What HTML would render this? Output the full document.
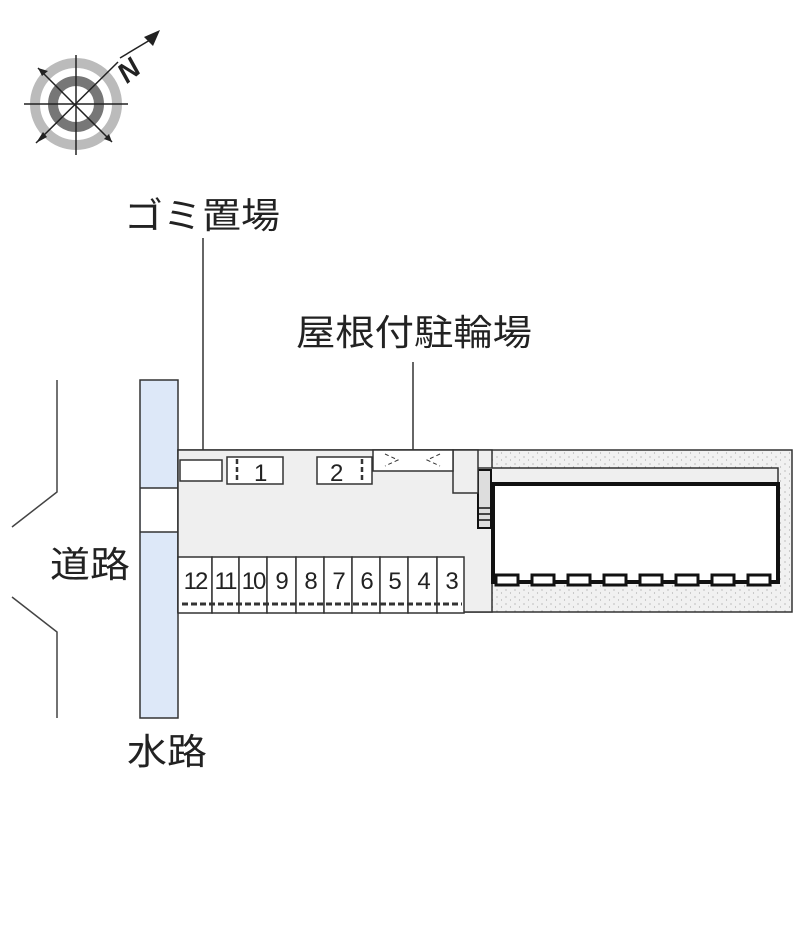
<!DOCTYPE html>
<html><head><meta charset="utf-8"><style>
body{margin:0;background:#fff;width:800px;height:941px;overflow:hidden;font-family:"Liberation Sans","Noto Sans CJK JP",sans-serif}
</style></head><body>
<svg width="800" height="941" xmlns="http://www.w3.org/2000/svg">
<defs>
<pattern id="dots" width="9" height="7" patternUnits="userSpaceOnUse">
<rect width="9" height="7" fill="#f1f1f1"/>
<circle cx="2" cy="2" r="0.6" fill="#999"/><circle cx="6.5" cy="5" r="0.6" fill="#aaa"/>
</pattern>
</defs>
<!-- compass -->
<circle cx="76" cy="104" r="41" fill="none" stroke="#bbb" stroke-width="10"/>
<circle cx="76" cy="104" r="23" fill="none" stroke="#777" stroke-width="10"/>
<g stroke="#222" stroke-width="1.5">
<line x1="24" y1="104" x2="128" y2="104"/>
<line x1="76" y1="55" x2="76" y2="155"/>
<line x1="38" y1="68" x2="112" y2="142"/>
<line x1="36" y1="143" x2="118" y2="62"/>
<line x1="120" y1="58" x2="150" y2="40"/>
</g>
<polygon points="160,30 144,37 153,46" fill="#222"/>
<polygon points="36,143 43,132 47,137" fill="#222"/>
<polygon points="38,68 48,71 42,76" fill="#222"/>
<polygon points="112,142 104,139 109,134" fill="#222"/>
<text x="116" y="78" font-size="28" font-weight="bold" font-style="italic" fill="#222" transform="rotate(-40 130 66)">N</text>
<!-- labels -->
<text x="124" y="228" font-size="36" fill="#222" textLength="156" lengthAdjust="spacingAndGlyphs">ゴミ置場</text>
<line x1="203" y1="238" x2="203" y2="470" stroke="#333" stroke-width="1.5"/>
<text x="296" y="345" font-size="36" fill="#222" textLength="236" lengthAdjust="spacingAndGlyphs">屋根付駐輪場</text>
<line x1="413" y1="362" x2="413" y2="465" stroke="#333" stroke-width="1.5"/>
<text x="50" y="577" font-size="36" fill="#222" textLength="80" lengthAdjust="spacingAndGlyphs">道路</text>
<text x="127" y="764" font-size="36" fill="#222" textLength="80" lengthAdjust="spacingAndGlyphs">水路</text>
<!-- road -->
<g stroke="#444" stroke-width="1.5" fill="none">
<polyline points="57,380 57,492 12,527"/>
<polyline points="12,597 57,632 57,718"/>
</g>
<!-- water -->
<rect x="140" y="380" width="38" height="338" fill="#dde8f8" stroke="#333" stroke-width="1.5"/>
<rect x="141" y="488" width="36" height="44" fill="#fff"/>
<line x1="140" y1="488" x2="178" y2="488" stroke="#333" stroke-width="1.5"/>
<line x1="140" y1="532" x2="178" y2="532" stroke="#333" stroke-width="1.5"/>
<!-- lot -->
<rect x="178" y="450" width="614" height="162" fill="url(#dots)" stroke="#333" stroke-width="1.5"/>
<rect x="178" y="450" width="314" height="162" fill="#efefef" stroke="#333" stroke-width="1.5"/>
<rect x="478" y="468" width="300" height="16" fill="#efefef" stroke="#333" stroke-width="1.5"/>
<rect x="493" y="484" width="285" height="98" fill="#fff" stroke="#111" stroke-width="4"/>
<g fill="#fff" stroke="#111" stroke-width="3">
<rect x="496" y="575" width="22" height="10"/><rect x="532" y="575" width="22" height="10"/>
<rect x="568" y="575" width="22" height="10"/><rect x="604" y="575" width="22" height="10"/>
<rect x="640" y="575" width="22" height="10"/><rect x="676" y="575" width="22" height="10"/>
<rect x="712" y="575" width="22" height="10"/><rect x="748" y="575" width="22" height="10"/>
</g>
<rect x="478" y="470" width="13" height="58" fill="#ddd" stroke="#111" stroke-width="2"/>
<g stroke="#111" stroke-width="1.5"><line x1="478" y1="508" x2="491" y2="508"/><line x1="478" y1="514" x2="491" y2="514"/><line x1="478" y1="520" x2="491" y2="520"/></g>
<rect x="453" y="450" width="25" height="43" fill="#efefef" stroke="#333" stroke-width="1.5"/>
<rect x="373" y="450" width="80" height="21" fill="#fff" stroke="#333" stroke-width="1.5"/>
<path d="M385,454 L398,460 L385,466 M440,454 L427,460 L440,466" stroke="#333" fill="none" stroke-dasharray="4,3"/>
<rect x="180" y="460" width="42" height="21" fill="#fff" stroke="#333" stroke-width="1.5"/>
<rect x="227" y="457" width="56" height="27" fill="#fff" stroke="#333" stroke-width="1.5"/>
<rect x="317" y="457" width="55" height="27" fill="#fff" stroke="#333" stroke-width="1.5"/>
<line x1="237" y1="459" x2="237" y2="482" stroke="#333" stroke-width="2.5" stroke-dasharray="5,3"/>
<line x1="362" y1="459" x2="362" y2="482" stroke="#333" stroke-width="2.5" stroke-dasharray="5,3"/>
<text x="254" y="481" font-size="24" fill="#222">1</text>
<text x="330" y="481" font-size="24" fill="#222">2</text>
<!-- parking -->
<g fill="#fff" stroke="#333" stroke-width="1.5">
<rect x="178" y="557" width="34" height="56"/><rect x="212" y="557" width="27" height="56"/>
<rect x="239" y="557" width="28" height="56"/><rect x="267" y="557" width="29" height="56"/>
<rect x="296" y="557" width="28" height="56"/><rect x="324" y="557" width="28" height="56"/>
<rect x="352" y="557" width="28" height="56"/><rect x="380" y="557" width="28" height="56"/>
<rect x="408" y="557" width="29" height="56"/><rect x="437" y="557" width="27" height="56"/>
</g>
<line x1="182" y1="604" x2="462" y2="604" stroke="#333" stroke-width="3" stroke-dasharray="6,3"/>
<g font-size="24" fill="#222" text-anchor="middle" letter-spacing="-2">
<text x="195" y="589">12</text><text x="225" y="589">11</text><text x="253" y="589">10</text>
<text x="281" y="589">9</text><text x="310" y="589">8</text><text x="338" y="589">7</text>
<text x="366" y="589">6</text><text x="394" y="589">5</text><text x="423" y="589">4</text><text x="451" y="589">3</text>
</g>
</svg>
</body></html>
